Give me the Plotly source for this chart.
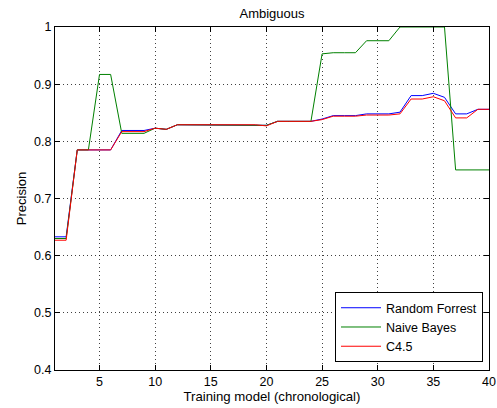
import plotly.graph_objects as go

x_vals = list(range(1, 41))

random_forrest = [0.633, 0.633, 0.785, 0.785, 0.785, 0.785, 0.819, 0.819, 0.819, 0.823,
                  0.821, 0.829, 0.829, 0.829, 0.829, 0.829, 0.829, 0.829, 0.829, 0.828,
                  0.835, 0.835, 0.835, 0.835, 0.839, 0.845, 0.845, 0.845, 0.848, 0.848,
                  0.848, 0.851, 0.880, 0.880, 0.884, 0.877, 0.848, 0.848, 0.856, 0.856]

naive_bayes = [0.630, 0.630, 0.785, 0.785, 0.917, 0.917, 0.814, 0.814, 0.814, 0.823,
               0.821, 0.829, 0.829, 0.829, 0.829, 0.829, 0.829, 0.829, 0.829, 0.828,
               0.835, 0.835, 0.835, 0.835, 0.953, 0.955, 0.955, 0.955, 0.976, 0.976,
               0.976, 1.0, 1.0, 1.0, 1.0, 1.0, 0.750, 0.750, 0.750, 0.750]

c45 = [0.627, 0.627, 0.785, 0.785, 0.785, 0.785, 0.817, 0.817, 0.817, 0.823,
       0.821, 0.829, 0.829, 0.829, 0.829, 0.829, 0.829, 0.829, 0.829, 0.827,
       0.835, 0.835, 0.835, 0.835, 0.838, 0.844, 0.844, 0.844, 0.846, 0.846,
       0.846, 0.848, 0.874, 0.874, 0.878, 0.871, 0.841, 0.841, 0.856, 0.856]

x_ticks = [5, 10, 15, 20, 25, 30, 35, 40]
y_ticks = [0.4, 0.5, 0.6, 0.7, 0.8, 0.9, 1.0]
y_tick_text = ["0.4", "0.5", "0.6", "0.7", "0.8", "0.9", "1"]

fig = go.Figure()
fig.add_trace(go.Scatter(x=x_vals, y=random_forrest, mode="lines", name="Random Forrest",
                         line=dict(color="#0000FF", width=1)))
fig.add_trace(go.Scatter(x=x_vals, y=naive_bayes, mode="lines", name="Naive Bayes",
                         line=dict(color="#008000", width=1)))
fig.add_trace(go.Scatter(x=x_vals, y=c45, mode="lines", name="C4.5",
                         line=dict(color="#FF0000", width=1)))

font_family = "Liberation Sans, Arial, Helvetica, sans-serif"

fig.update_layout(
    width=497, height=408,
    margin=dict(l=55, r=8, t=27, b=38, autoexpand=False),
    paper_bgcolor="white", plot_bgcolor="white",
    font=dict(family=font_family, size=12, color="black"),
    title=dict(text="Ambiguous", x=(55 + 489) / 2 / 497, xanchor="center",
               y=1 - 13 / 408, yanchor="middle", font=dict(size=13)),
    showlegend=True,
    legend=dict(x=0.9862, y=0.023, xanchor="right", yanchor="bottom",
                bordercolor="black", borderwidth=1, bgcolor="white",
                font=dict(size=12.5), itemwidth=40, tracegroupgap=0),
)

fig.update_xaxes(
    range=[1, 40], tickvals=x_ticks, ticks="inside", ticklen=5, tickcolor="black",
    showline=True, linecolor="black", linewidth=1, mirror="ticks",
    showgrid=True, gridcolor="rgba(0,0,0,0.75)", griddash="1px,3px", gridwidth=1,
    zeroline=False, automargin=False, tickfont=dict(size=12.5),
    title=dict(text="Training model (chronological)", standoff=2, font=dict(size=13.2)),
)
fig.update_yaxes(
    range=[0.4, 1.0], tickvals=y_ticks, ticktext=y_tick_text, ticks="inside", ticklen=5,
    tickcolor="black",
    showline=True, linecolor="black", linewidth=1, mirror="ticks",
    showgrid=True, gridcolor="rgba(0,0,0,0.75)", griddash="1px,3px", gridwidth=1,
    zeroline=False, automargin=False, tickfont=dict(size=12.5),
    title=dict(text="Precision", standoff=4, font=dict(size=13)),
)

fig.write_html("out.html")
